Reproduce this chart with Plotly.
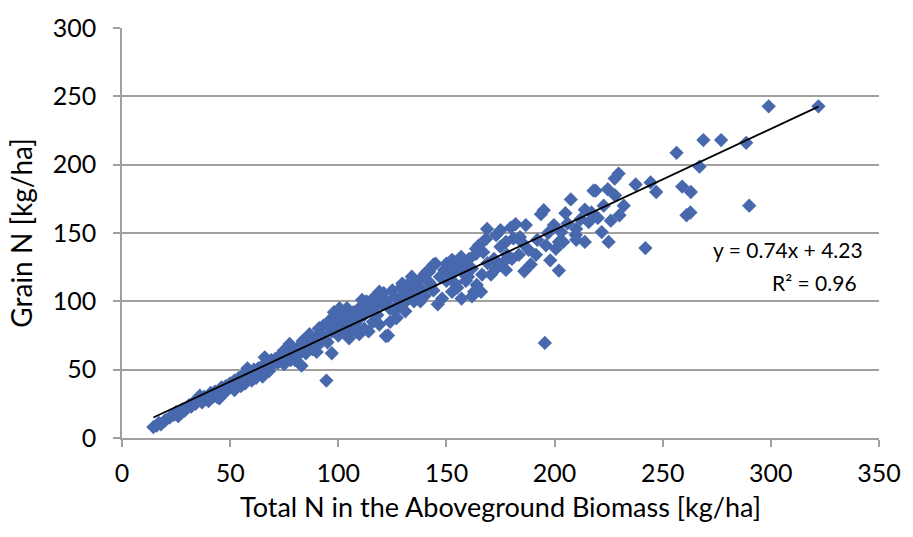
import plotly.graph_objects as go

# Total N in aboveground biomass [kg/ha]
total_n = [
    14.5, 16, 17, 18, 20, 22, 24, 25, 27, 28, 30, 29, 31, 26,
    32, 33, 34, 35, 36, 37, 38, 39, 40, 41, 42, 43, 44, 45, 46, 47, 48, 49, 50, 36, 40, 44, 48,
    51, 52, 53, 54, 55, 56, 57, 58, 59, 60, 61, 62, 63, 64, 65, 66, 67, 68, 69, 70, 55, 60, 65, 58, 66,
    71, 72, 73, 74, 75, 76, 77, 78, 79, 80, 81, 82, 83, 84, 85, 86, 87, 88, 89, 90, 72.9, 74.7, 77.5, 83.5, 86.7, 83, 80, 88,
    91, 92, 93, 94, 95, 96, 97, 98, 99, 100, 101, 102, 103, 104, 105, 106, 107, 108, 109, 110, 94.5, 97, 100.6, 103.7, 96, 91.3, 109.7, 105, 95, 100, 108,
    111, 112, 113, 114, 115, 116, 117, 118, 119, 120, 121, 122, 123, 124, 125, 126, 127, 128, 129, 130, 119, 115.7, 123.6, 126.8, 122, 111, 118, 124,
    131, 132, 133, 134, 135, 136, 137, 138, 139, 140, 141, 142, 143, 144, 145, 146, 147, 148, 149, 150, 137.4, 129.6, 128, 135, 142, 140, 132,
    151, 152.6, 152.6, 152.6, 154, 156.8, 157, 157, 158, 159, 160.5, 161.8, 162.8, 163.7, 165, 166, 166.5, 168.3, 168.8, 169, 164, 155, 167, 161.8, 163.7,
    170.6, 172, 173, 173, 175, 177.5, 177.5, 178, 179.8, 180.3, 182, 183.5, 184, 186.7, 188, 189, 176, 181, 186, 175, 185,
    191.4, 193.7, 195, 195.5, 196, 197, 199.7, 200.6, 202, 202, 203, 204, 205, 207.5, 209.8, 210, 210, 192, 198, 206,
    214, 214, 215.8, 217, 218, 219, 221.8, 222.7, 224.6, 225, 226, 227.8, 228, 229.6, 232, 237.5, 242, 244.4, 247, 212, 220, 230,
    256.4, 259, 261, 262.8, 263, 267, 268.8, 277, 288.6, 290, 299, 322,
    45, 52, 57, 62, 68, 75, 78, 85, 90, 92, 98, 104, 112, 118, 126, 134, 138, 144, 150, 154, 156, 160, 112, 116, 106, 130,
]

# Grain N [kg/ha]
grain_n = [
    8, 9, 11, 10, 13, 15, 17, 19, 18, 21, 22, 20, 24, 16,
    23, 26, 25, 27, 28, 26, 30, 29, 31, 33, 30, 34, 32, 35, 37, 33, 38, 36, 40, 31, 27, 30, 34,
    37, 42, 39, 44, 41, 46, 43, 48, 45, 47, 50, 44, 51, 49, 53, 50, 55, 52, 57, 54, 38, 42, 45, 51, 59,
    58, 55, 60, 56, 62, 59, 64, 61, 66, 63, 60, 67, 64, 69, 62, 70, 67, 72, 68, 74, 56.5, 63.8, 68.8, 71, 76, 52.9, 57, 65,
    80, 76, 82, 72, 84, 86, 78, 88, 83, 90, 85, 80, 91, 87, 73, 89, 92, 84, 94, 88, 42, 62, 95, 90.6, 85.5, 80.4, 76, 76, 70, 75, 80,
    96, 90, 100, 78, 93, 102, 96, 104, 83, 98, 106, 100, 75, 95, 108, 103, 88, 98, 110, 105, 107, 92.7, 95, 87.7, 74.6, 101, 90, 85,
    92.7, 112, 106, 118, 100, 110, 105, 116, 108, 120, 121.7, 114, 112, 126.8, 127.5, 97.8, 118, 102, 123, 127.5, 107, 113, 97.8, 113, 121.7, 104, 101,
    120, 130.4, 119.6, 107, 125, 132.6, 121.7, 102, 128, 115, 131, 124, 107, 134.8, 141, 107, 119.6, 145.6, 153, 128, 112, 110, 136, 103.6, 138.4,
    119.6, 131, 148.5, 124, 140, 143.5, 123, 134, 154, 131, 156.5, 134, 147, 155.8, 137.7, 127, 128, 146, 122, 152, 143,
    134, 163.8, 166.7, 69.6, 141, 150, 155.8, 138.4, 143.5, 122.5, 150.7, 143.5, 164.5, 174.6, 148.5, 153, 145, 145, 130, 157,
    167, 143.5, 158, 165, 181, 181, 150.7, 170, 182, 143.5, 159, 189.8, 177.5, 193.5, 170, 185.5, 139, 187, 180, 160, 161, 163,
    208.7, 184, 163, 165, 180, 198.5, 218, 218, 216, 170, 242.7, 242.7,
    29, 35, 40, 47, 49, 54, 57, 65, 63, 70, 92, 95, 96, 99, 93, 104, 100, 108, 115, 113, 127, 118, 80, 85, 82, 100,
]

# Linear trend reported on the chart
slope = 0.74
intercept = 4.23
r_squared = 0.96

x_ticks = [0, 50, 100, 150, 200, 250, 300, 350]
y_ticks = [0, 50, 100, 150, 200, 250, 300]

x_min, x_max = min(total_n), max(total_n)

font_family = "Lato, Carlito, 'Open Sans', sans-serif"

fig = go.Figure()
fig.add_trace(go.Scatter(
    x=total_n, y=grain_n, mode="markers",
    marker=dict(symbol="diamond", size=11, color="#4868AE", line=dict(width=0)),
    showlegend=False, hoverinfo="x+y",
))
fig.add_trace(go.Scatter(
    x=[x_min, x_max],
    y=[slope * x_min + intercept, slope * x_max + intercept],
    mode="lines", line=dict(color="black", width=1.8),
    showlegend=False, hoverinfo="skip",
))

fig.add_annotation(
    x=1.0, xref="paper", y=0.46, yref="paper",
    text=f"y = {slope}x + {intercept}", showarrow=False,
    xanchor="right", yanchor="middle", xshift=-14,
    font=dict(family=font_family, size=21, color="black"),
)
fig.add_annotation(
    x=1.0, xref="paper", y=0.38, yref="paper",
    text=f"R² = {r_squared}", showarrow=False,
    xanchor="right", yanchor="middle", xshift=-20,
    font=dict(family=font_family, size=21, color="black"),
)

axis_common = dict(
    showline=True, linecolor="#A0A0A0", linewidth=1.5,
    ticks="outside", tickcolor="#A0A0A0", ticklen=7, tickwidth=1.5,
    tickfont=dict(family=font_family, size=25, color="black"),
    zeroline=False,
)

fig.update_layout(
    width=913, height=537,
    margin=dict(l=122, r=32, t=24, b=99),
    paper_bgcolor="white", plot_bgcolor="white",
    xaxis=dict(
        range=[0, 350], tickvals=x_ticks, showgrid=False,
        title=dict(text="Total N in the Aboveground Biomass [kg/ha]",
                   font=dict(family=font_family, size=27, color="black"), standoff=12),
        ticklabelstandoff=5,
        **axis_common,
    ),
    yaxis=dict(
        range=[0, 300], tickvals=y_ticks, showgrid=True,
        gridcolor="#A0A0A0", gridwidth=1.5,
        title=dict(text="Grain N [kg/ha]",
                   font=dict(family=font_family, size=28, color="black"), standoff=12),
        ticklabelstandoff=12,
        **axis_common,
    ),
)

fig.write_html("out.html")
